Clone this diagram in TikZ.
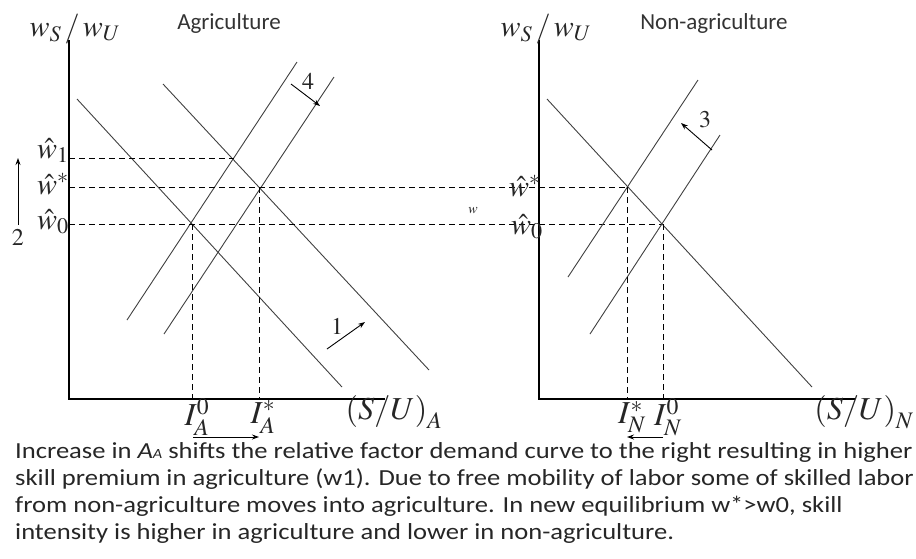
\documentclass[tikz,border=0pt]{standalone}
\usepackage{mathptmx}
\usepackage[no-math]{fontspec}
\setmainfont{Carlito}
\usetikzlibrary{arrows.meta}
\begin{document}
\begin{tikzpicture}[x=1pt,y=-1pt,
  axis/.style={line width=1.3pt,black},
  curve/.style={line width=0.9pt,black!75},
  guide/.style={line width=0.9pt,black,dash pattern=on 6pt off 4pt},
  shiftarrow/.style={line width=0.9pt,black,-{Stealth[length=7pt,width=5pt]}},
  lbl/.style={inner sep=0pt,text=black!85},
  ttl/.style={inner sep=0pt,font=\fontsize{23}{25}\selectfont,text=black!80},
  body/.style={inner sep=0pt,anchor=base west,font=\fontsize{23}{27}\selectfont\addfontfeature{FakeStretch=1.155},text=black!85}]
\useasboundingbox (0,0) rectangle (916,558);
% ---------- left panel ----------
\coordinate (LO) at (69,399);
\coordinate (LT) at (69,40);
\coordinate (LX) at (385,399);
\draw[axis] (LT) -- (LO) -- (LX);
\node[lbl,font=\fontsize{30}{32}\selectfont] (lyl) at (75,29) {$w_S\,/\,w_U$};
\node[ttl] (ltitle) at (229,23) {Agriculture};
% curves
\coordinate (d0a) at (77,99);   \coordinate (d0b) at (342,387);
\coordinate (d1a) at (163,84);  \coordinate (d1b) at (429,370);
\coordinate (s0a) at (127,320); \coordinate (s0b) at (297,62);
\coordinate (s1a) at (164,334); \coordinate (s1b) at (334,77);
\draw[curve] (d0a) -- (d0b);
\draw[curve] (d1a) -- (d1b);
\draw[curve] (s0a) -- (s0b);
\draw[curve] (s1a) -- (s1b);
% equilibrium points
\coordinate (e0) at (192,224);
\coordinate (e1) at (234,158);
\coordinate (es) at (259,187);
\coordinate (a1) at (69,158);
\coordinate (as) at (69,187);
\coordinate (a0) at (69,224);
\coordinate (x0) at (192,399);
\coordinate (xs) at (259,399);
% right panel equilibrium points
\coordinate (ns) at (627,187);
\coordinate (n0) at (663,224);
\draw[guide] (a1) -- (e1);
\draw[guide] (as) -- (ns);
\draw[guide] (a0) -- (n0);
\draw[guide] (e0) -- (x0);
\draw[guide] (es) -- (xs);
% labels
\node[lbl,font=\fontsize{30}{32}\selectfont,anchor=base west] (lw1) at (37,158) {$\hat w_1$};
\node[lbl,font=\fontsize{30}{32}\selectfont,anchor=base west] (lws) at (37,194) {$\hat w^*$};
\node[lbl,font=\fontsize{30}{32}\selectfont,anchor=base west] (lw0) at (37,229) {$\hat w_0$};
\coordinate (r2a) at (18,225);
\coordinate (r2b) at (18,158);
\draw[shiftarrow] (r2a) -- (r2b);
\node[lbl,font=\fontsize{24}{26}\selectfont] (two) at (18,237) {$2$};
% shift arrows
\coordinate (r4a) at (291,84); \coordinate (r4b) at (320,106);
\draw[shiftarrow] (r4a) -- (r4b);
\node[lbl,font=\fontsize{24}{26}\selectfont] (four) at (308,81) {$4$};
\coordinate (r1a) at (327,349); \coordinate (r1b) at (365,322);
\draw[shiftarrow] (r1a) -- (r1b);
\node[lbl,font=\fontsize{24}{26}\selectfont] (one) at (337,326) {$1$};
% axis labels
\node[lbl,font=\fontsize{32}{34}\selectfont] (ia0) at (197,417) {$I_A^0$};
\node[lbl,font=\fontsize{32}{34}\selectfont] (ias) at (263,417) {$I_A^*$};
\node[lbl,font=\fontsize{32}{34}\selectfont] (lsu) at (394,412) {$\left(S/U\right)_A$};
\coordinate (ba) at (193,437); \coordinate (bb) at (259,437);
\draw[shiftarrow] (ba) -- (bb);
% ---------- right panel ----------
\coordinate (RO) at (539,399);
\coordinate (RT) at (539,40);
\coordinate (RX) at (855,399);
\draw[axis] (RT) -- (RO) -- (RX);
\node[lbl,font=\fontsize{30}{32}\selectfont] (ryl) at (546,29) {$w_S\,/\,w_U$};
\node[ttl] (rtitle) at (714,23) {Non-agriculture};
\coordinate (nda) at (547,99);  \coordinate (ndb) at (812,387);
\coordinate (nsa) at (590,334); \coordinate (nsb) at (720,135);
\coordinate (nta) at (568,277); \coordinate (ntb) at (698,80);
\draw[curve] (nda) -- (ndb);
\draw[curve] (nsa) -- (nsb);
\draw[curve] (nta) -- (ntb);
\coordinate (y0) at (663,399);
\coordinate (ys) at (627,399);
\draw[guide] (ns) -- (ys);
\draw[guide] (n0) -- (y0);
\node[lbl,font=\fontsize{30}{32}\selectfont,anchor=base west] (rws) at (509,196) {$\hat w^*$};
\node[lbl,font=\fontsize{30}{32}\selectfont,anchor=base west] (rw0) at (511,234) {$\hat w_0$};
\node[lbl,font=\fontsize{14}{15}\selectfont] (wsmall) at (473,211) {$w$};
\coordinate (r3a) at (712,150); \coordinate (r3b) at (681,123);
\draw[shiftarrow] (r3a) -- (r3b);
\node[lbl,font=\fontsize{24}{26}\selectfont] (three) at (705,120) {$3$};
\node[lbl,font=\fontsize{32}{34}\selectfont] (ins) at (632,417) {$I_N^*$};
\node[lbl,font=\fontsize{32}{34}\selectfont] (in0) at (668,417) {$I_N^0$};
\node[lbl,font=\fontsize{32}{34}\selectfont] (rsu) at (864,412) {$\left(S/U\right)_N$};
\coordinate (ca) at (663,437); \coordinate (cb) at (627,437);
\draw[shiftarrow] (ca) -- (cb);
% ---------- text ----------
\node[body] (t1) at (15,458) {Increase in \textit{A}{\fontsize{14}{15}\selectfont\textit{A}} shifts the relative factor demand curve to the right resulting in higher};
\node[body] (t2) at (15,485) {skill premium in agriculture (w1). Due to free mobility of labor some of skilled labor};
\node[body] (t3) at (15,512) {from non-agriculture moves into agriculture. In new equilibrium w*>w0, skill};
\node[body] (t4) at (15,539) {intensity is higher in agriculture and lower in non-agriculture.};
\end{tikzpicture}
\end{document}
